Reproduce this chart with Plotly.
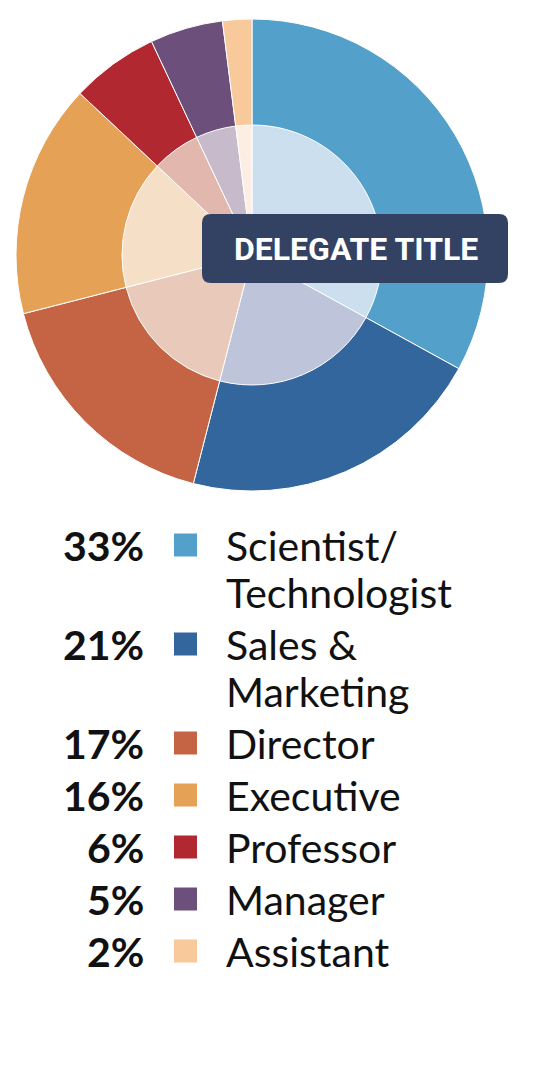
import plotly.graph_objects as go

# delegate title breakdown (percent)
titles = ["Scientist/<br>Technologist", "Sales &<br>Marketing", "Director", "Executive",
          "Professor", "Manager", "Assistant"]
shares = [33, 21, 17, 16, 6, 5, 2]
outer_colors = ["#53A0CB", "#33669C", "#C46445", "#E5A155", "#B22830", "#6C4F7A", "#F8C99A"]
inner_colors = ["#CCDFEE", "#BEC4DA", "#E8C9BA", "#F6DFC7", "#E2B8AE", "#C7BBCB", "#FCEEE2"]

W, H = 533, 1067
cx, cy, r_out, r_in = 252, 255, 236, 130


def dom(r):
    return dict(x=[(cx - r) / W, (cx + r) / W], y=[1 - (cy + r) / H, 1 - (cy - r) / H])


fig = go.Figure()
for r, cols in [(r_out, outer_colors), (r_in, inner_colors)]:
    fig.add_trace(go.Pie(
        labels=titles, values=shares, sort=False, direction="clockwise", rotation=0,
        marker=dict(colors=cols, line=dict(color="white", width=1)),
        textinfo="none", hoverinfo="label+percent", domain=dom(r), showlegend=False,
    ))

# legend rows built on a hidden pixel axis
row_y, y = [], 545
for t in titles:
    row_y.append(y)
    y += 52 + 47 * t.count("<br>")

fig.add_trace(go.Scatter(
    x=[185.5] * len(shares), y=row_y, mode="markers",
    marker=dict(symbol="square", size=23, color=outer_colors, line_width=0),
    hoverinfo="skip", showlegend=False,
))

annotations = []
for t, v, yy in zip(titles, shares, row_y):
    annotations.append(dict(x=146, y=yy, text=f"<b>{v}%</b>", xanchor="right", yanchor="middle",
                            showarrow=False, font=dict(size=41, color="#111111")))
    for i, line in enumerate(t.split("<br>")):
        annotations.append(dict(x=224, y=yy + 47 * i, text=line, xanchor="left", yanchor="middle",
                                showarrow=False, font=dict(size=41, color="#111111")))
for a in annotations:
    a.update(xref="x", yref="y")

annotations.append(dict(x=356, y=249, xref="x", yref="y", text="<b>DELEGATE TITLE</b>",
                        showarrow=False, font=dict(size=32, color="white",
                        family="Roboto, sans-serif")))

# rounded label box
x0, x1, y0, y1, c = 202, 508, 214, 283, 9
box = (f"M {x0 + c},{y0} L {x1 - c},{y0} Q {x1},{y0} {x1},{y0 + c} L {x1},{y1 - c} "
       f"Q {x1},{y1} {x1 - c},{y1} L {x0 + c},{y1} Q {x0},{y1} {x0},{y1 - c} "
       f"L {x0},{y0 + c} Q {x0},{y0} {x0 + c},{y0} Z")

fig.update_layout(
    width=W, height=H, margin=dict(l=0, r=0, t=0, b=0),
    paper_bgcolor="white", plot_bgcolor="rgba(0,0,0,0)",
    font=dict(family="Lato, sans-serif"),
    xaxis=dict(range=[0, W], visible=False, fixedrange=True, domain=[0, 1]),
    yaxis=dict(range=[H, 0], visible=False, fixedrange=True, domain=[0, 1]),
    shapes=[dict(type="path", path=box, xref="x", yref="y", fillcolor="#334262", line_width=0)],
    annotations=annotations,
)

fig.write_html("out.html", config={"displayModeBar": False},
               post_script="document.body.style.margin='0';")
